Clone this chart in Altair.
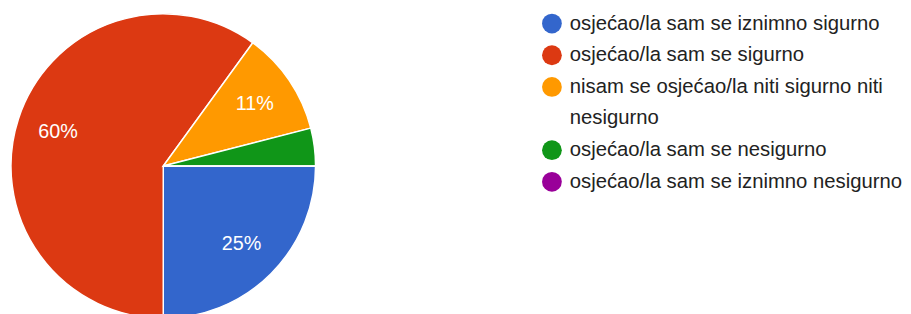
import math
import textwrap
import altair as alt
import pandas as pd

categories = [
    "osjećao/la sam se iznimno sigurno",
    "osjećao/la sam se sigurno",
    "nisam se osjećao/la niti sigurno niti nesigurno",
    "osjećao/la sam se nesigurno",
    "osjećao/la sam se iznimno nesigurno",
]
percentages = [25, 60, 11, 4, 0]
colors = ["#3366CC", "#DC3912", "#FF9900", "#109618", "#990099"]

FONT = "Liberation Sans"

pie_df = pd.DataFrame({
    "category": categories,
    "value": percentages,
    "order": list(range(len(categories))),
    "label": [f"{v}%" if v >= 5 else "" for v in percentages],
})

color_scale = alt.Scale(domain=categories, range=colors)
theta_scale = alt.Scale(range=[math.pi / 2, math.pi / 2 + 2 * math.pi])

base = alt.Chart(pie_df).encode(
    theta=alt.Theta("value:Q", stack=True, scale=theta_scale),
    order=alt.Order("order:Q"),
)
arcs = base.mark_arc(radius=154, stroke="white", strokeWidth=1.5).encode(
    color=alt.Color("category:N", scale=color_scale, legend=None)
)
labels = base.mark_text(radius=112, fontSize=20, color="white", font=FONT).encode(
    text="label:N"
)
pie = alt.layer(arcs, labels).properties(width=310, height=316)

rows = []
slot = 0
for cat in categories:
    lines = textwrap.wrap(cat, 37)
    for j, line in enumerate(lines):
        rows.append({"category": cat, "line": line, "slot": slot, "first": j == 0})
        slot += 1
leg_df = pd.DataFrame(rows)

y_enc = alt.Y("slot:Q", scale=alt.Scale(domain=[0, 10], range=[14, 334], nice=False), axis=None)

dots = alt.Chart(leg_df).transform_filter("datum.first").mark_point(
    filled=True, shape="circle", size=400, opacity=1
).encode(
    x=alt.value(11),
    y=y_enc,
    color=alt.Color("category:N", scale=color_scale, legend=None),
)
texts = alt.Chart(leg_df).mark_text(
    align="left", baseline="middle", fontSize=20.5, font=FONT, color="#222222"
).encode(
    x=alt.value(29),
    y=y_enc,
    text="line:N",
)
legend = alt.layer(dots, texts).properties(width=355, height=316)

chart = alt.hconcat(pie, legend, spacing=225).properties(padding=0).configure_view(stroke=None)

chart.save("out.html", embed_options={"renderer": "svg", "actions": False})
